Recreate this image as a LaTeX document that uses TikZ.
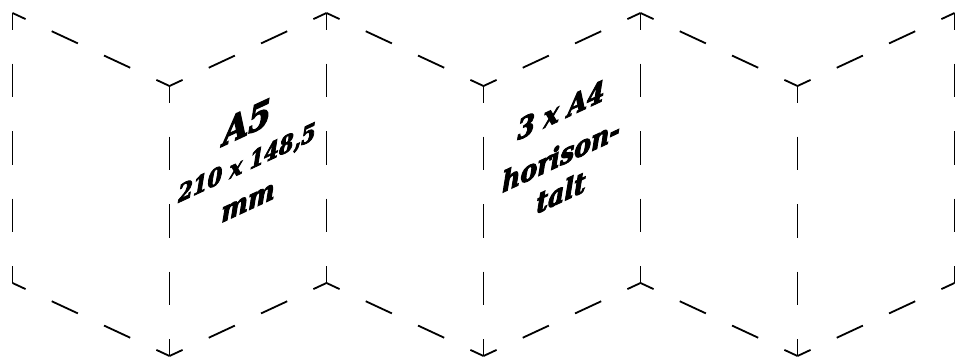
\documentclass[tikz,border=0pt]{standalone}
\usepackage{fontspec}
\newfontfamily\slabfont[FakeBold=3.5]{DejaVu Serif Condensed Bold Italic}
\begin{document}
\begin{tikzpicture}[x=1pt,y=1pt,
    fold/.style={line width=1.8pt, black, dash pattern=on 33.75pt off 33.75pt, dash phase=16.875pt},
    edge/.style={line width=1.8pt, black, dash pattern=on 28.85pt off 28.85pt, dash phase=14.43pt},
    foldtext/.style={font=\fontsize{28}{28}\slabfont, yslant=0.465, inner sep=0pt}]
\useasboundingbox (0,0) rectangle (955,358);
% vertical folds
\draw[fold] (12.5,345) -- (12.5,75);
\draw[fold] (169.5,272) -- (169.5,2);
\draw[fold] (326.5,345) -- (326.5,75);
\draw[fold] (483.5,272) -- (483.5,2);
\draw[fold] (640.5,345) -- (640.5,75);
\draw[fold] (797.5,272) -- (797.5,2);
\draw[fold] (954.5,345) -- (954.5,75);
% top edge
\draw[edge] (12.5,345) -- (169.5,272);
\draw[edge] (169.5,272) -- (326.5,345);
\draw[edge] (326.5,345) -- (483.5,272);
\draw[edge] (483.5,272) -- (640.5,345);
\draw[edge] (640.5,345) -- (797.5,272);
\draw[edge] (797.5,272) -- (954.5,345);
% bottom edge
\draw[edge] (12.5,75) -- (169.5,2);
\draw[edge] (169.5,2) -- (326.5,75);
\draw[edge] (326.5,75) -- (483.5,2);
\draw[edge] (483.5,2) -- (640.5,75);
\draw[edge] (640.5,75) -- (797.5,2);
\draw[edge] (797.5,2) -- (954.5,75);
% texts on the panels
\node[foldtext, font=\fontsize{36}{36}\slabfont] (a5) at (247,236) {A5};
\node[foldtext, font=\fontsize{23.5}{23.5}\slabfont] (size) at (247,194) {210 x 148,5};
\node[foldtext] (mm) at (248,155) {mm};
\node[foldtext] (a4) at (561,248) {3 x A4};
\node[foldtext] (hor) at (561,203) {horison-};
\node[foldtext] (talt) at (561,166) {talt};
\end{tikzpicture}
\end{document}
